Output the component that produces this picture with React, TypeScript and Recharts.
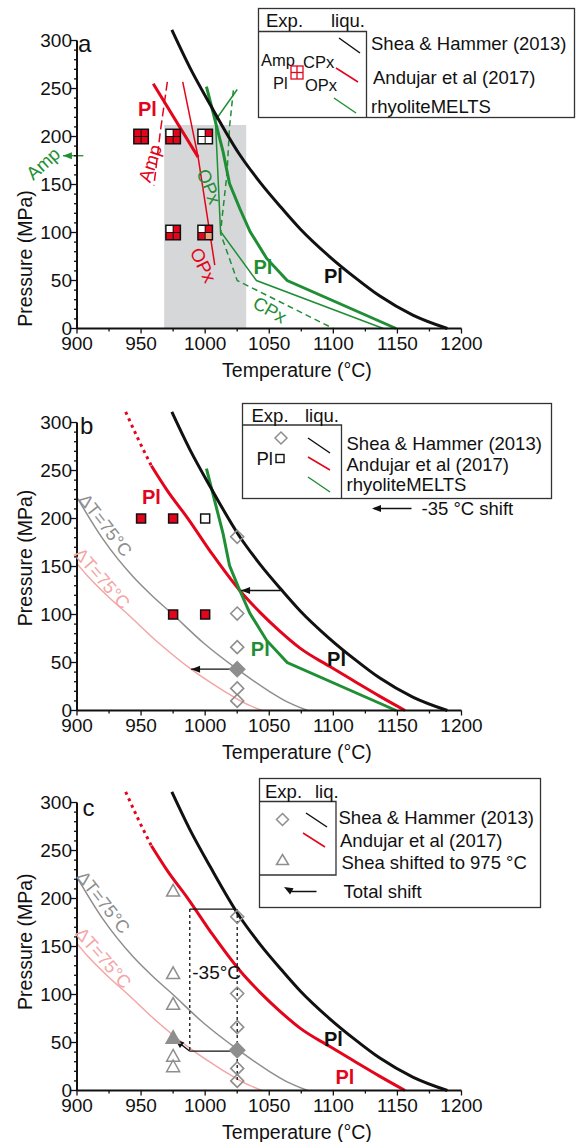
import React from "react";
import {
  ComposedChart,
  Line,
  Scatter,
  XAxis,
  YAxis,
  ReferenceArea,
  ReferenceDot,
  ReferenceLine,
} from "recharts";

const FONT = "'Liberation Sans', Arial, Helvetica, sans-serif";
const INK = "#111";
const RED = "#e3051b";
const GREEN = "#1f8e35";
const GRAY = "#8e8e8e";
const PINK = "#f3a6a6";
const SHADE = "#d6d7d9";
const SALMON = "#eda27c";

// axes
const tempTicks = [900, 925, 950, 975, 1000, 1025, 1050, 1075, 1100, 1125, 1150, 1175, 1200];
const pressureTicks = [
  0, 10, 20, 30, 40, 50, 60, 70, 80, 90, 100, 110, 120, 130, 140, 150, 160, 170, 180, 190, 200,
  210, 220, 230, 240, 250, 260, 270, 280, 290, 300,
];

// liquidus curves, T (°C) vs P (MPa)
const sheaPl = [
  { T: 974, P: 311 }, { T: 988, P: 272 }, { T: 1004, P: 233 }, { T: 1027, P: 181 },
  { T: 1043, P: 152 }, { T: 1060, P: 125 }, { T: 1074, P: 104 }, { T: 1097, P: 75 },
  { T: 1117, P: 53 }, { T: 1136, P: 34 }, { T: 1162, P: 14 }, { T: 1189, P: 0 },
];
const andujarDotted = [{ T: 938, P: 311 }, { T: 948, P: 282 }, { T: 958, P: 255 }];
const andujarPl = [
  { T: 958, P: 255 }, { T: 971, P: 228 }, { T: 986, P: 201 }, { T: 1006, P: 162 },
  { T: 1027, P: 125 }, { T: 1043, P: 102 }, { T: 1058, P: 83 }, { T: 1074, P: 65 },
  { T: 1097, P: 46 }, { T: 1117, P: 30 }, { T: 1136, P: 15 }, { T: 1156, P: 0 },
];
const meltsPl = [
  { T: 1001, P: 252 }, { T: 1006, P: 226 }, { T: 1014, P: 184 }, { T: 1019, P: 151 },
  { T: 1027, P: 125 }, { T: 1035, P: 101 }, { T: 1048, P: 73 }, { T: 1064, P: 50 },
  { T: 1149, P: 0 },
];
const meltsOpx = [
  { T: 1025, P: 249 }, { T: 1008, P: 217 }, { T: 1012, P: 101 }, { T: 1040, P: 50 }, { T: 1139, P: 0 },
];
const meltsCpx = [
  { T: 1022, P: 248 }, { T: 1019, P: 210 }, { T: 1017, P: 161 }, { T: 1013, P: 113 },
  { T: 1012, P: 99 }, { T: 1025, P: 50 }, { T: 1100, P: 0 },
];
const andujarAmp = [{ T: 970.5, P: 257 }, { T: 965, P: 205 }, { T: 960, P: 149 }];
const andujarPlA = [{ T: 959.5, P: 255 }, { T: 994.5, P: 178.5 }];
const andujarOpx = [{ T: 982.5, P: 257 }, { T: 994.5, P: 178.5 }, { T: 1007.5, P: 66 }];
const deltaGray = [
  { T: 900, P: 222 }, { T: 920, P: 179 }, { T: 944, P: 139 }, { T: 959, P: 119 },
  { T: 974, P: 101 }, { T: 999, P: 70 }, { T: 1025, P: 43 }, { T: 1050, P: 20 },
  { T: 1064, P: 9 }, { T: 1080, P: 0 },
];
const deltaPink = [
  { T: 900, P: 153 }, { T: 909, P: 139 }, { T: 924, P: 119 }, { T: 939, P: 101 },
  { T: 964, P: 70 }, { T: 989, P: 43 }, { T: 1015, P: 20 }, { T: 1029, P: 9 }, { T: 1044, P: 0 },
];

// experiments (1 = phase present, 0.5 = partly)
const expPhases = [
  { T: 950, P: 200, amp: 1, cpx: 1, pl: 1, opx: 1 },
  { T: 975, P: 200, amp: 0, cpx: 1, pl: 1, opx: 1 },
  { T: 1000, P: 200, amp: 0, cpx: 1, pl: 0, opx: 0 },
  { T: 975, P: 100, amp: 0, cpx: 1, pl: 1, opx: 1 },
  { T: 1000, P: 100, amp: 0, cpx: 1, pl: 1, opx: 0.5 },
];
const expPl = [
  { T: 950, P: 200, pl: 1 }, { T: 975, P: 200, pl: 1 }, { T: 1000, P: 200, pl: 0 },
  { T: 975, P: 100, pl: 1 }, { T: 1000, P: 100, pl: 1 },
];
const sheaExp = [
  { T: 1025, P: 181 }, { T: 1025, P: 101 }, { T: 1025, P: 66 }, { T: 1025, P: 23 }, { T: 1025, P: 10 },
];
const sheaExpKeyB = [{ T: 1025, P: 43 }];
const sheaExpKeyC = [{ T: 1025, P: 42 }];
const sheaShifted = [
  { T: 975, P: 208 }, { T: 975, P: 122 }, { T: 975, P: 90 }, { T: 975, P: 36 }, { T: 975, P: 25 },
];
const sheaShiftedKey = [{ T: 975, P: 55 }];

type Note = { T: number; P: number; text: string; color: string; size?: number; bold?: boolean; angle?: number };
type Seg = { T1: number; P1: number; T2: number; P2: number; head?: boolean; dash?: string };

const notesA: Note[] = [
  { T: 906, P: 297, text: "a", color: INK, size: 24 },
  { T: 955, P: 229, text: "Pl", color: RED, size: 20, bold: true },
  { T: 957, P: 172, text: "Amp", color: RED, size: 18.5, angle: -72 },
  { T: 998.5, P: 66, text: "OPx", color: RED, size: 18.5, angle: 64 },
  { T: 1003, P: 148, text: "OPx", color: GREEN, size: 18.5, angle: 68 },
  { T: 1045, P: 64, text: "Pl", color: GREEN, size: 20, bold: true },
  { T: 1050.5, P: 19.5, text: "CPx", color: GREEN, size: 18.5, angle: 30 },
  { T: 1100, P: 55, text: "Pl", color: INK, size: 20, bold: true },
  { T: 873.5, P: 172, text: "Amp", color: GREEN, size: 18.5, angle: -42 },
];
const notesB: Note[] = [
  { T: 907.5, P: 297, text: "b", color: INK, size: 24 },
  { T: 958, P: 222, text: "Pl", color: RED, size: 20, bold: true },
  { T: 1043, P: 64, text: "Pl", color: GREEN, size: 20, bold: true },
  { T: 1102.5, P: 54, text: "Pl", color: INK, size: 20, bold: true },
  { T: 922, P: 193, text: "ΔT=75°C", color: GRAY, size: 18, angle: 52 },
  { T: 919.5, P: 137.5, text: "ΔT=75°C", color: PINK, size: 18, angle: 49 },
];
const notesC: Note[] = [
  { T: 909, P: 295, text: "c", color: INK, size: 24 },
  { T: 1100, P: 54, text: "Pl", color: INK, size: 20, bold: true },
  { T: 1109, P: 14, text: "Pl", color: RED, size: 20, bold: true },
  { T: 920.5, P: 196, text: "ΔT=75°C", color: GRAY, size: 18, angle: 52 },
  { T: 920.5, P: 138, text: "ΔT=75°C", color: PINK, size: 18, angle: 49 },
  { T: 1009, P: 123, text: "-35°C", color: INK, size: 19 },
];
const segsA: Seg[] = [{ T1: 905, P1: 180, T2: 889, P2: 180, head: true }];
const segsB: Seg[] = [
  { T1: 1059, P1: 125, T2: 1028, P2: 125, head: true },
  { T1: 1021, P1: 43, T2: 989, P2: 43, head: true },
];
const segsC: Seg[] = [
  { T1: 988, P1: 189, T2: 1024, P2: 189 },
  { T1: 988, P1: 189, T2: 988, P2: 41, dash: "3 3" },
  { T1: 1025, P1: 189, T2: 1025, P2: 10, dash: "3 3" },
  { T1: 1022, P1: 41, T2: 988, P2: 41 },
  { T1: 988, P1: 41, T2: 976.5, P2: 53, head: true },
];

const headPts = (x1: number, y1: number, x2: number, y2: number, len = 9, w = 3.5) => {
  const a = Math.atan2(y2 - y1, x2 - x1);
  const bx = x2 - len * Math.cos(a);
  const by = y2 - len * Math.sin(a);
  const px = -Math.sin(a) * w;
  const py = Math.cos(a) * w;
  return `${x2},${y2} ${bx + px},${by + py} ${bx - px},${by - py}`;
};

const XTick = (p: any) => {
  const v = p.payload.value;
  const major = v % 50 === 0;
  return (
    <g>
      <line x1={p.x} x2={p.x} y1={p.y} y2={p.y + (major ? 5 : 3)} stroke={INK} strokeWidth={1.3} />
      {major && (
        <text x={p.x} y={p.y + 21} textAnchor="middle" fontSize={19} fontFamily={FONT} fill={INK}>
          {v}
        </text>
      )}
    </g>
  );
};

const YTick = (p: any) => {
  const v = p.payload.value;
  const major = v % 50 === 0;
  return (
    <g>
      <line x1={p.x - (major ? 6 : 3)} x2={p.x} y1={p.y} y2={p.y} stroke={INK} strokeWidth={1.3} />
      {major && (
        <text x={p.x - 5} y={p.y + 6.5} textAnchor="end" fontSize={19} fontFamily={FONT} fill={INK}>
          {v}
        </text>
      )}
    </g>
  );
};

const PhaseBox = (p: any) => {
  const { cx, cy, payload } = p;
  const fill = (v: number) => (v === 1 ? RED : v === 0.5 ? SALMON : "#fff");
  return (
    <g>
      <rect x={cx - 8} y={cy - 8} width={16} height={16} fill={INK} />
      <rect x={cx - 6.5} y={cy - 6.5} width={6} height={6} fill={fill(payload.amp)} />
      <rect x={cx + 0.5} y={cy - 6.5} width={6} height={6} fill={fill(payload.cpx)} />
      <rect x={cx - 6.5} y={cy + 0.5} width={6} height={6} fill={fill(payload.pl)} />
      <rect x={cx + 0.5} y={cy + 0.5} width={6} height={6} fill={fill(payload.opx)} />
    </g>
  );
};

const PlBox = (p: any) => (
  <rect x={p.cx - 4.5} y={p.cy - 4.5} width={9} height={9} fill={p.payload.pl ? RED : "#fff"} stroke={INK} strokeWidth={1.5} />
);

const diamond = (filled: boolean) => (p: any) => {
  const r = filled ? 7.5 : 6.5;
  const { cx, cy } = p;
  return (
    <polygon
      points={`${cx},${cy - r} ${cx + r},${cy} ${cx},${cy + r} ${cx - r},${cy}`}
      fill={filled ? GRAY : "none"}
      stroke={GRAY}
      strokeWidth={1.6}
    />
  );
};

const triangle = (filled: boolean) => (p: any) => {
  const r = filled ? 7 : 6.5;
  const { cx, cy } = p;
  return (
    <polygon
      points={`${cx},${cy - r} ${cx + r},${cy + r * 0.8} ${cx - r},${cy + r * 0.8}`}
      fill={filled ? GRAY : "none"}
      stroke={GRAY}
      strokeWidth={1.5}
    />
  );
};

const renderNotes = (notes: Note[], key: string) =>
  notes.map((n, i) => (
    <ReferenceDot
      key={key + i}
      x={n.T}
      y={n.P}
      r={1}
      ifOverflow="visible"
      shape={(p: any) => (
        <text
          x={p.cx}
          y={p.cy}
          transform={n.angle ? `rotate(${n.angle} ${p.cx} ${p.cy})` : undefined}
          textAnchor="middle"
          dominantBaseline="central"
          fontFamily={FONT}
          fontSize={n.size ?? 18}
          fontWeight={n.bold ? 700 : 400}
          fill={n.color}
        >
          {n.text}
        </text>
      )}
    />
  ));

const renderSegs = (segs: Seg[], color: string, key: string) =>
  segs.map((s, i) => (
    <ReferenceLine
      key={key + i}
      segment={[{ x: s.T1, y: s.P1 }, { x: s.T2, y: s.P2 }]}
      ifOverflow="visible"
      shape={(p: any) => (
        <g>
          <line x1={p.x1} y1={p.y1} x2={p.x2} y2={p.y2} stroke={color} strokeWidth={1.3} strokeDasharray={s.dash} />
          {s.head && <polygon points={headPts(p.x1, p.y1, p.x2, p.y2)} fill={color} />}
        </g>
      )}
    />
  ));

function Panel({ top, yLabelY, children }: { top: number; yLabelY: number; children: React.ReactNode }) {
  return (
    <div style={{ position: "absolute", left: 0, top, width: 579, height: 400 }}>
      <ComposedChart width={579} height={400} margin={{ top: 20, right: 117.5, bottom: 50.5, left: 27 }}>
        <XAxis
          type="number"
          dataKey="T"
          domain={[900, 1200]}
          ticks={tempTicks}
          interval={0}
          tick={XTick}
          tickSize={0}
          tickMargin={0}
          tickLine={false}
          height={30}
          axisLine={{ stroke: INK, strokeWidth: 2 }}
          label={(p: any) => (
            <text x={297} y={p.viewBox.y + 48.5} textAnchor="middle" fontSize={19.5} fontFamily={FONT} fill={INK}>
              Temperature (°C)
            </text>
          )}
        />
        <YAxis
          type="number"
          dataKey="P"
          domain={[0, 312]}
          ticks={pressureTicks}
          interval={0}
          tick={YTick}
          tickSize={0}
          tickMargin={0}
          tickLine={false}
          width={50}
          axisLine={false}
          label={(p: any) => (
            <text
              x={25}
              y={p.viewBox.y + yLabelY}
              transform={`rotate(-90 25 ${p.viewBox.y + yLabelY})`}
              textAnchor="middle"
              dominantBaseline="central"
              fontSize={19.5}
              fontFamily={FONT}
              fill={INK}
            >
              Pressure (MPa)
            </text>
          )}
        />
        {children}
        <ReferenceLine segment={[{ x: 900, y: 0 }, { x: 900, y: 300 }]} stroke={INK} strokeWidth={2} ifOverflow="visible" />
      </ComposedChart>
    </div>
  );
}

const thin = { dot: false as const, isAnimationActive: false, strokeWidth: 1.5 };
const thick = { dot: false as const, isAnimationActive: false, strokeWidth: 3 };

export default function App() {
  return (
    <div style={{ position: "absolute", left: 0, top: 0, width: 579, height: 1142, background: "#fff", fontFamily: FONT }}>
      <Panel top={8.5} yLabelY={229.5}>
        <ReferenceArea x1={968} x2={1032} y1={0} y2={212} fill={SHADE} fillOpacity={1} stroke="none" ifOverflow="visible" />
        <Line data={andujarAmp} dataKey="P" type="linear" stroke={RED} strokeDasharray="9 4" {...thin} />
        <Line data={andujarOpx} dataKey="P" type="linear" stroke={RED} {...thin} />
        <Line data={andujarPlA} dataKey="P" type="linear" stroke={RED} {...thick} />
        <Line data={meltsOpx} dataKey="P" type="linear" stroke={GREEN} {...thin} />
        <Line data={meltsCpx} dataKey="P" type="linear" stroke={GREEN} strokeDasharray="6 4" {...thin} />
        <Line data={meltsPl} dataKey="P" type="linear" stroke={GREEN} {...thick} />
        <Line data={sheaPl} dataKey="P" type="monotone" stroke={INK} {...thick} />
        <Scatter data={expPhases} dataKey="P" shape={PhaseBox} isAnimationActive={false} />
        {renderSegs(segsA, GREEN, "sa")}
        {renderNotes(notesA, "na")}
      </Panel>

      <Panel top={390.5} yLabelY={147}>
        <Line data={deltaPink} dataKey="P" type="monotone" stroke={PINK} {...thin} />
        <Line data={deltaGray} dataKey="P" type="monotone" stroke={GRAY} {...thin} />
        <Line data={andujarDotted} dataKey="P" type="monotone" stroke={RED} strokeDasharray="3 4" {...thick} />
        <Line data={andujarPl} dataKey="P" type="monotone" stroke={RED} {...thick} />
        <Line data={meltsPl} dataKey="P" type="linear" stroke={GREEN} {...thick} />
        <Line data={sheaPl} dataKey="P" type="monotone" stroke={INK} {...thick} />
        <Scatter data={expPl} dataKey="P" shape={PlBox} isAnimationActive={false} />
        <Scatter data={sheaExp} dataKey="P" shape={diamond(false)} isAnimationActive={false} />
        <Scatter data={sheaExpKeyB} dataKey="P" shape={diamond(true)} isAnimationActive={false} />
        {renderSegs(segsB, INK, "sb")}
        {renderNotes(notesB, "nb")}
      </Panel>

      <Panel top={771} yLabelY={150.7}>
        <Line data={deltaPink} dataKey="P" type="monotone" stroke={PINK} {...thin} />
        <Line data={deltaGray} dataKey="P" type="monotone" stroke={GRAY} {...thin} />
        <Line data={andujarDotted} dataKey="P" type="monotone" stroke={RED} strokeDasharray="3 4" {...thick} />
        <Line data={andujarPl} dataKey="P" type="monotone" stroke={RED} {...thick} />
        <Line data={sheaPl} dataKey="P" type="monotone" stroke={INK} {...thick} />
        {renderSegs(segsC, INK, "sc")}
        <Scatter data={sheaShifted} dataKey="P" shape={triangle(false)} isAnimationActive={false} />
        <Scatter data={sheaShiftedKey} dataKey="P" shape={triangle(true)} isAnimationActive={false} />
        <Scatter data={sheaExp} dataKey="P" shape={diamond(false)} isAnimationActive={false} />
        <Scatter data={sheaExpKeyC} dataKey="P" shape={diamond(true)} isAnimationActive={false} />
        {renderNotes(notesC, "nc")}
      </Panel>

      <svg width={579} height={1142} style={{ position: "absolute", left: 0, top: 0, pointerEvents: "none" }}>
        <g fontFamily={FONT} fontSize={18.5} fill={INK} dominantBaseline="central">
          {/* legend a */}
          <rect x={258.5} y={8.5} width={316} height={109} fill="#fff" stroke="#333" strokeWidth={1.3} />
          <polyline points="258.5,31.5 366.5,31.5 366.5,117.5" fill="none" stroke="#333" strokeWidth={1.3} />
          <text x={266} y={20.5}>Exp.</text>
          <text x={331} y={20.5}>liqu.</text>
          <text x={261} y={60} fontSize={16.5}>Amp</text>
          <text x={273} y={83} fontSize={16.5}>Pl</text>
          <rect x={291} y={66} width={12} height={13} fill="none" stroke={RED} strokeWidth={1.3} />
          <line x1={297} y1={66} x2={297} y2={79} stroke={RED} strokeWidth={1.3} />
          <line x1={291} y1={72.5} x2={303} y2={72.5} stroke={RED} strokeWidth={1.3} />
          <text x={303} y={62} fontSize={16.5}>CPx</text>
          <text x={305} y={85} fontSize={16.5}>OPx</text>
          <line x1={339} y1={38} x2={360} y2={53} stroke={INK} strokeWidth={1.5} />
          <line x1={336} y1={68} x2={358} y2={82} stroke={RED} strokeWidth={1.5} />
          <line x1={334} y1={98} x2={356} y2={113} stroke={GREEN} strokeWidth={1.5} />
          <text x={371} y={43.5}>Shea &amp; Hammer (2013)</text>
          <text x={373} y={77}>Andujar et al (2017)</text>
          <text x={371} y={106}>rhyoliteMELTS</text>

          {/* legend b */}
          <rect x={242.5} y={403.5} width={309} height={95} fill="#fff" stroke="#333" strokeWidth={1.3} />
          <polyline points="242.5,425 341.5,425 341.5,498.5" fill="none" stroke="#333" strokeWidth={1.3} />
          <text x={251.5} y={415}>Exp.</text>
          <text x={305} y={415}>liqu.</text>
          <polygon points="281,432 287,438 281,444 275,438" fill="none" stroke={GRAY} strokeWidth={1.5} />
          <text x={256.5} y={458.5}>Pl</text>
          <rect x={276} y={454.5} width={8} height={8} fill="#fff" stroke={INK} strokeWidth={1.4} />
          <line x1={308} y1={438} x2={330} y2={453} stroke={INK} strokeWidth={1.5} />
          <line x1={308} y1={457} x2={330} y2={470} stroke={RED} strokeWidth={1.5} />
          <line x1={308} y1={477} x2={330} y2={492} stroke={GREEN} strokeWidth={1.5} />
          <text x={346.5} y={443.5}>Shea &amp; Hammer (2013)</text>
          <text x={346.5} y={464}>Andujar et al (2017)</text>
          <text x={346.5} y={484.5}>rhyoliteMELTS</text>
          <line x1={411.5} y1={508.5} x2={374} y2={508.5} stroke={INK} strokeWidth={1.3} />
          <polygon points={headPts(411.5, 508.5, 372, 508.5)} fill={INK} />
          <text x={421.5} y={508.5}>-35 °C shift</text>

          {/* legend c */}
          <rect x={259.5} y={778.5} width={281} height={129} fill="#fff" stroke="#333" strokeWidth={1.3} />
          <polyline points="259.5,801.5 336,801.5 336,875 259.5,875" fill="none" stroke="#333" strokeWidth={1.3} />
          <text x={265} y={791.5}>Exp.</text>
          <text x={315} y={791}>liq.</text>
          <polygon points="282.5,813.5 288.5,819.5 282.5,825.5 276.5,819.5" fill="none" stroke={GRAY} strokeWidth={1.5} />
          <polygon points="282.5,854.5 288.5,864.5 276.5,864.5" fill="none" stroke={GRAY} strokeWidth={1.5} />
          <line x1={306} y1={813} x2={327} y2={827} stroke={INK} strokeWidth={1.5} />
          <line x1={303} y1={833} x2={325} y2={847} stroke={RED} strokeWidth={1.5} />
          <text x={338.5} y={817.5}>Shea &amp; Hammer (2013)</text>
          <text x={340} y={840}>Andujar et al (2017)</text>
          <text x={341.5} y={862.5}>Shea shifted to 975 °C</text>
          <polyline points="316.5,891.5 292,891.5 287,888.5" fill="none" stroke={INK} strokeWidth={1.3} />
          <polygon points={headPts(292, 891.5, 284, 887)} fill={INK} />
          <text x={343.5} y={891}>Total shift</text>
        </g>
      </svg>
    </div>
  );
}
